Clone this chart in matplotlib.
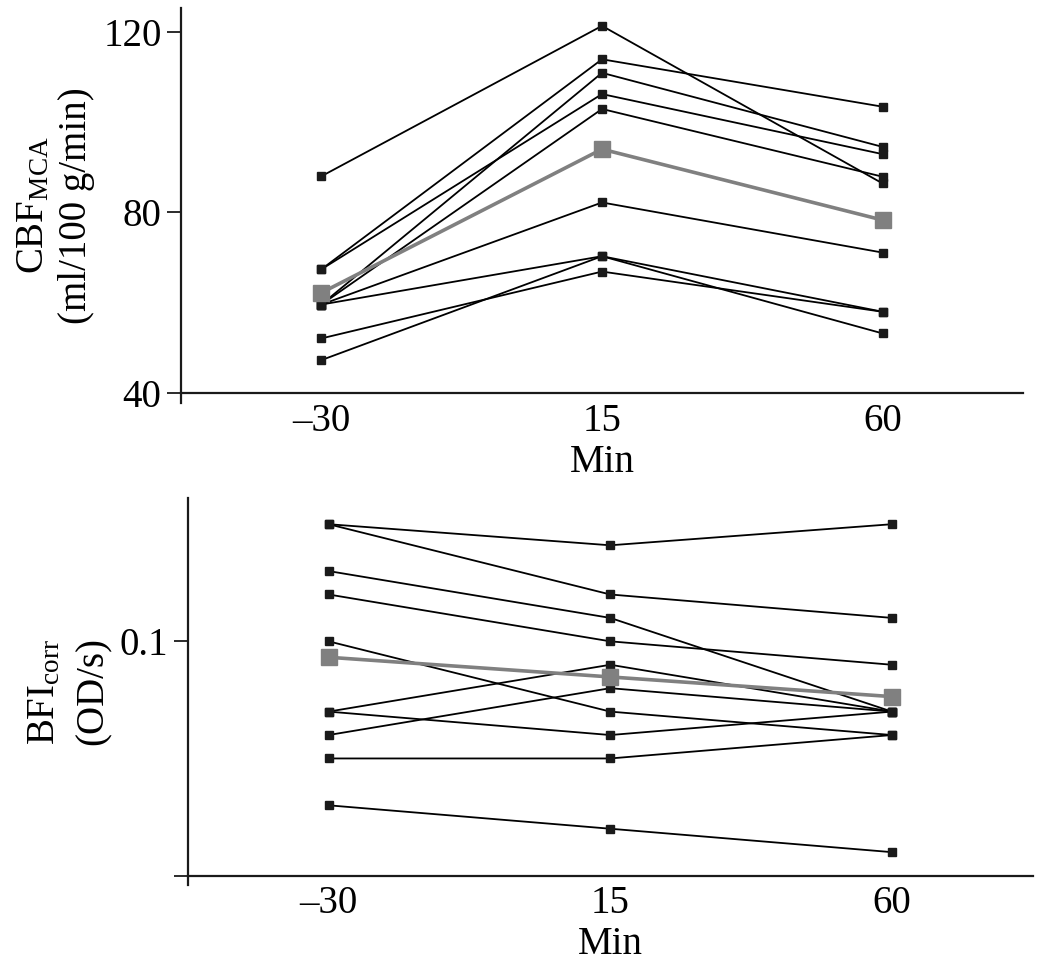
################################################################################
#   Paired time course plot: CBF (MCA) and BFI (corr) per subject + mean      #
################################################################################

import matplotlib
matplotlib.use("Agg")
import matplotlib.pyplot as plt

################################################################################
#                                   DATA                                       #
################################################################################

time_labels = ["\u201330", "15", "60"]

# CBF in MCA territory (ml/100 g/min), one row per subject
cbf_subjects = [
    [88.0, 121.3, 86.4],
    [67.4, 113.9, 103.4],
    [67.4, 106.2, 92.9],
    [59.6, 110.9, 94.5],
    [59.6, 102.9, 87.9],
    [59.6, 82.2, 71.1],
    [59.6, 70.3, 53.2],
    [47.3, 70.3, 58.0],
    [52.1, 66.9, 58.0],
]
cbf_mean = [62.2, 94.0, 78.3]

# BFI corrected (OD/s), one row per subject
bfi_subjects = [
    [0.125, 0.1205, 0.125],
    [0.125, 0.110, 0.105],
    [0.115, 0.105, 0.085],
    [0.110, 0.100, 0.095],
    [0.100, 0.085, 0.080],
    [0.085, 0.095, 0.085],
    [0.085, 0.080, 0.085],
    [0.080, 0.090, 0.085],
    [0.075, 0.075, 0.080],
    [0.065, 0.060, 0.055],
]
bfi_mean = [0.0966, 0.0924, 0.0882]

################################################################################
#                                  STYLE                                       #
################################################################################

plt.rcParams["font.family"] = ["Liberation Serif", "DejaVu Serif"]
plt.rcParams["mathtext.fontset"] = "custom"
plt.rcParams["mathtext.rm"] = "Liberation Serif"
plt.rcParams["mathtext.it"] = "Liberation Serif:italic"

FONT = 28
SPINE = "#1a1a1a"


def draw_panel(ax, subjects, mean, ylim, xaxis_at, yticks, yticklabels, ylabel,
               linespacing=1.2):
    x = list(range(len(time_labels)))

    # spines first: moving a spine resets the tick objects
    for side in ("top", "right"):
        ax.spines[side].set_visible(False)
    ax.spines["bottom"].set_position(("data", xaxis_at))
    for side in ("left", "bottom"):
        ax.spines[side].set_linewidth(1.6)
        ax.spines[side].set_color(SPINE)

    for row in subjects:
        ax.plot(x, row, color="black", lw=1.3, marker="s", ms=5.5,
                mfc="#1a1a1a", mec="#1a1a1a", zorder=2)
    ax.plot(x, mean, color="#808080", lw=2.6, marker="s", ms=12,
            mfc="#808080", mec="#808080", zorder=3)

    ax.set_xlim(-0.5, 2.5)
    ax.set_ylim(*ylim)
    ax.set_xticks(x)
    ax.set_xticklabels(time_labels)
    ax.set_yticks(yticks)
    ax.set_yticklabels(yticklabels)
    ax.tick_params(axis="x", length=0, pad=7, labelsize=FONT)
    ax.tick_params(axis="y", length=10, width=1.3, color=SPINE, pad=4,
                   labelsize=FONT)

    ax.set_xlabel("Min", fontsize=FONT, labelpad=3)
    ax.set_ylabel(ylabel, fontsize=FONT, labelpad=6, linespacing=linespacing)


fig = plt.figure(figsize=(10.5, 9.66), dpi=100)

ax_top = fig.add_axes([0.1724, 0.5828, 0.8019, 0.4089])
draw_panel(ax_top, cbf_subjects, cbf_mean, (37.8, 125.25), 40,
           [40, 80, 120], ["40", "80", "120"],
           "CBF$_{\\mathrm{MCA}}$\n(ml/100 g/min)")

ax_bot = fig.add_axes([0.1788, 0.0839, 0.8048, 0.4006])
draw_panel(ax_bot, bfi_subjects, bfi_mean, (0.048, 0.1306), 0.05,
           [0.05, 0.1], ["", "0.1"],
           "BFI$_{\\mathrm{corr}}$\n(OD/s)", linespacing=1.4)

fig.savefig("out.png", dpi=100)
